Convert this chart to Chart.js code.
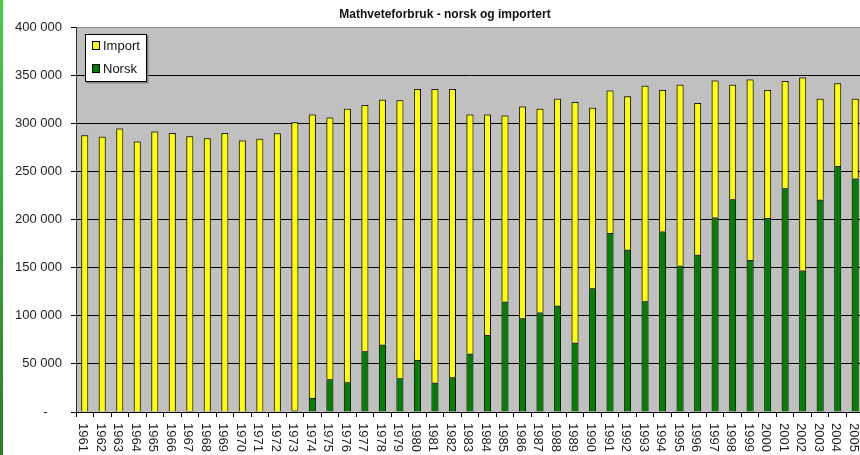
<!DOCTYPE html>
<html>
<head>
<meta charset="utf-8">
<script src="https://cdn.jsdelivr.net/npm/chart.js@4"></script>
<style>
  html, body { margin: 0; padding: 0; background: #fff; overflow: hidden; }
  #wrap { position: relative; width: 866px; height: 455px; }
  #strip { position: absolute; left: 0; top: 0; width: 3px; height: 455px;
           background: linear-gradient(#45cf45, #2a7d2a); z-index: 2; }
</style>
</head>
<body>
<div id="wrap">
  <div id="strip"></div>
  <canvas id="chart"></canvas>
</div>
<script>
// Mathveteforbruk (tonn), lest av fra figuren
const title = 'Mathveteforbruk - norsk og importert';
const years = [
  1961, 1962, 1963, 1964, 1965, 1966, 1967, 1968, 1969, 1970,
  1971, 1972, 1973, 1974, 1975, 1976, 1977, 1978, 1979, 1980,
  1981, 1982, 1983, 1984, 1985, 1986, 1987, 1988, 1989, 1990,
  1991, 1992, 1993, 1994, 1995, 1996, 1997, 1998, 1999, 2000,
  2001, 2002, 2003, 2004, 2005
];
const norsk = [
  0, 0, 0, 0, 0, 0, 1000, 0, 0, 0,
  0, 0, 1500, 14500, 34000, 31000, 63000, 70000, 35000, 54000,
  30500, 36000, 60500, 80000, 114500, 97500, 103500, 110500, 72000, 128500,
  186000, 168500, 115000, 187500, 152000, 163500, 202000, 221000, 158000, 201500,
  232500, 147000, 220500, 255500, 242500
];
const importert = [
  287500, 286000, 294500, 281000, 291500, 290000, 285500, 284500, 290000, 282000,
  284000, 289500, 299500, 294500, 272000, 284000, 256000, 254500, 289000, 281500,
  305000, 299500, 248500, 229000, 193500, 220000, 211500, 215000, 250000, 187500,
  148000, 159500, 224000, 147000, 188000, 157500, 142500, 119000, 187500, 133000,
  111500, 200500, 105000, 86000, 83000
];
const yTicks = [0, 50000, 100000, 150000, 200000, 250000, 300000, 350000, 400000];

const FONT = '"Liberation Sans", Arial, sans-serif';

function fmt(v) {
  if (v === 0) return '-\u2007\u2007';
  return String(v).replace(/\B(?=(\d{3})+(?!\d))/g, ' ');
}

const decor = {
  id: 'decor',
  beforeDraw(chart) {
    const a = chart.chartArea, ctx = chart.ctx;
    ctx.save();
    ctx.fillStyle = '#c0c0c0';
    ctx.fillRect(a.left, a.top, a.right - a.left, a.bottom - a.top);
    ctx.restore();
  },
  beforeDatasetsDraw(chart) {
    const ctx = chart.ctx;
    ctx.save();
    ctx.shadowColor = 'rgba(70,70,30,0.55)';
    ctx.shadowOffsetX = -1;
    ctx.shadowOffsetY = -1;
    ctx.shadowBlur = 0;
  },
  afterDatasetsDraw(chart) {
    chart.ctx.restore();
  },
  afterDraw(chart) {
    const ctx = chart.ctx, xs = chart.scales.x;
    ctx.save();
    // tittel
    ctx.fillStyle = '#111';
    ctx.font = 'bold 12px ' + FONT;
    ctx.textAlign = 'center';
    ctx.textBaseline = 'middle';
    ctx.fillText(title, 445, 15);

    // årstall, rotert
    ctx.fillStyle = '#222';
    ctx.font = '13px ' + FONT;
    ctx.textAlign = 'left';
    years.forEach((y, i) => {
      const x = xs.getPixelForValue(i) - 2;
      ctx.save();
      ctx.translate(x, 423);
      ctx.rotate(Math.PI / 2);
      ctx.fillText(String(y), 0, 0);
      ctx.restore();
    });

    // forklaring
    const bx = 85.5, by = 34.5, bw = 61, bh = 47;
    ctx.fillStyle = '#808080';
    ctx.fillRect(bx + 1, by + 1, bw + 1, bh + 1);
    ctx.fillStyle = '#fff';
    ctx.fillRect(bx, by, bw, bh);
    ctx.strokeStyle = '#000';
    ctx.lineWidth = 1;
    ctx.strokeRect(bx, by, bw, bh);
    const items = [chart.data.datasets[1], chart.data.datasets[0]];
    items.forEach((ds, k) => {
      const cy = 46 + k * 23;
      ctx.fillStyle = ds.backgroundColor;
      ctx.fillRect(92.5, cy - 4.5, 7, 8);
      ctx.strokeStyle = '#000';
      ctx.strokeRect(92.5, cy - 4.5, 7, 8);
      ctx.fillStyle = '#111';
      ctx.font = '13px ' + FONT;
      ctx.textBaseline = 'middle';
      ctx.fillText(ds.label, 103, cy);
    });
    ctx.restore();
  }
};

new Chart(document.getElementById('chart'), {
  type: 'bar',
  data: {
    labels: years,
    datasets: [
      { label: 'Norsk', data: norsk, backgroundColor: '#008000',
        borderColor: '#000', borderWidth: 1, barPercentage: 0.4, categoryPercentage: 1 },
      { label: 'Import', data: importert, backgroundColor: '#ffff00',
        borderColor: '#000', borderWidth: 1, barPercentage: 0.4, categoryPercentage: 1 }
    ]
  },
  options: {
    responsive: true,
    maintainAspectRatio: false,
    animation: false,
    layout: { padding: { top: 27, right: 2, left: 0, bottom: 0 } },
    plugins: {
      legend: { display: false },
      title: { display: false },
      tooltip: { enabled: false }
    },
    scales: {
      x: {
        stacked: true,
        ticks: { display: false },
        grid: { drawOnChartArea: false, color: '#000', tickLength: 5, offset: true },
        border: { color: '#000' },
        afterFit(s) { s.height = 43; }
      },
      y: {
        stacked: true,
        min: 0,
        max: 400000,
        afterBuildTicks(s) { s.ticks = yTicks.map(v => ({ value: v })); },
        ticks: {
          callback: fmt,
          color: '#222',
          padding: 9,
          font: { family: FONT, size: 13 }
        },
        grid: {
          color: c => (c.tick && c.tick.value === 400000) ? '#8a8a8a' : '#000',
          tickColor: '#000',
          tickLength: 5
        },
        border: { color: '#333' },
        afterFit(s) { s.width = 76; }
      }
    }
  },
  plugins: [decor]
});
</script>
</body>
</html>
